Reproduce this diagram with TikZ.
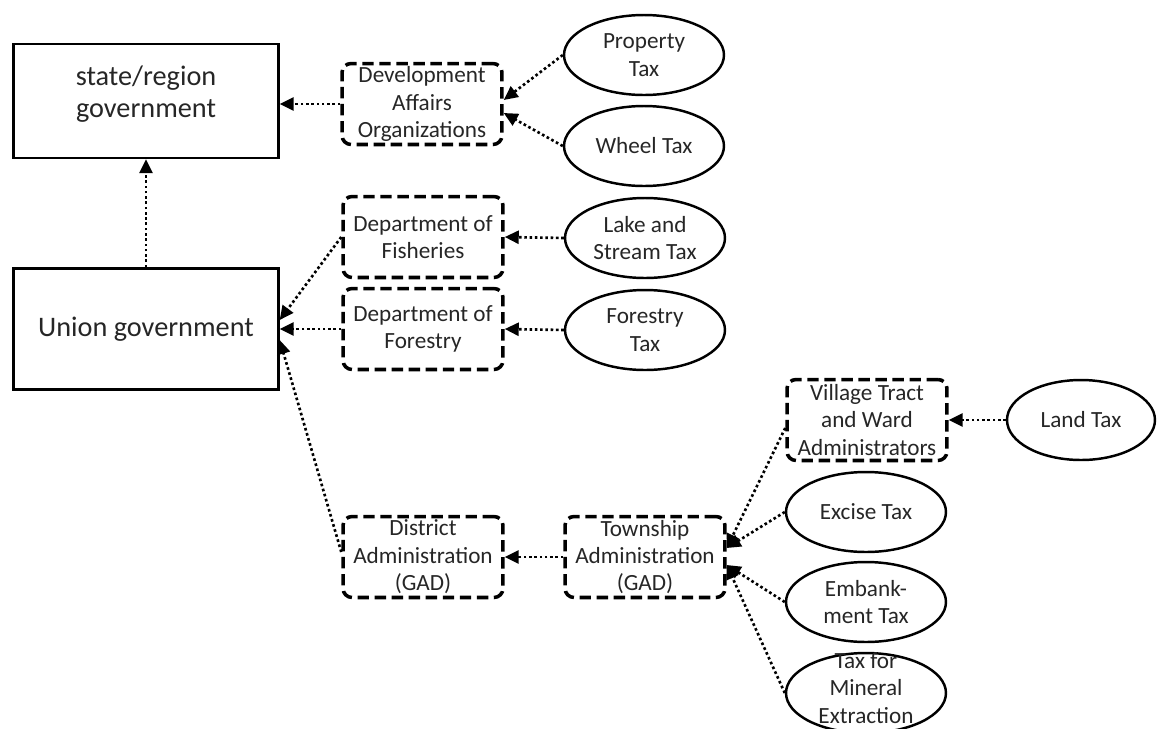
\documentclass[tikz,border=0pt]{standalone}
\usepackage{fontspec}
\setmainfont{Carlito}
\usetikzlibrary{shapes.geometric,arrows.meta}

\tikzset{
  govbox/.style={draw,line width=1.4pt,minimum width=5.3cm,inner sep=0pt,align=center,
    text=black!85,font=\fontsize{16.1}{18.5}\selectfont},
  orgbox/.style={draw,line width=2pt,dash pattern=on 6.5pt off 3.2pt,rounded corners=0.18cm,
    minimum width=3.2cm,minimum height=1.62cm,inner sep=0pt,align=center,
    text=black!85,font=\fontsize{13.2}{15.6}\selectfont},
  taxoval/.style={draw,ellipse,line width=1.4pt,minimum width=3.2cm,minimum height=1.6cm,
    inner sep=0pt,align=center,text=black!85,font=\fontsize{13.2}{15.6}\selectfont},
  flow/.style={line width=1.5pt,dash pattern=on 1.5pt off 1.5pt,
    -{Triangle[length=2.8mm,width=2.6mm]}}
}

\begin{document}
\begin{tikzpicture}[x=0.02cm,y=-0.02cm]
	\useasboundingbox (0,0) rectangle (1157,728);
	% governments
	\node[govbox,minimum height=2.28cm] (state) at (146,101) {state/region\\government\\[-8pt]};
	\node[govbox,minimum height=2.42cm] (union) at (146,329) {Union government};
	% organizations
	\node[orgbox] (dao) at (422,104) {Development\\Affairs\\Organizations};
	\node[orgbox] (fish) at (423,237) {Department of\\Fisheries};
	\node[orgbox] (forest) at (423,329) {Department of\\Forestry};
	\node[orgbox] (district) at (423,557) {District\\Administration\\(GAD)};
	\node[orgbox] (township) at (645,557) {Township\\Administration\\(GAD)};
	\node[orgbox] (village) at (867,420) {Village Tract\\and Ward\\Administrators};
	% taxes
	\node[taxoval] (proptax) at (644,55) {Property\\Tax};
	\node[taxoval] (wheeltax) at (644,146) {Wheel Tax};
	\node[taxoval] (laketax) at (645,238) {Lake and\\Stream Tax};
	\node[taxoval] (foresttax) at (645,330) {Forestry\\Tax};
	\node[taxoval,minimum width=2.96cm] (landtax) at (1081,420) {Land Tax};
	\node[taxoval] (excisetax) at (866,512) {Excise Tax};
	\node[taxoval] (embanktax) at (866,602) {Embank-\\ment Tax};
	\node[taxoval,label={[align=center,text=black!85,yshift=0.1cm,
	  font=\fontsize{13.2}{15.6}\selectfont]center:Tax for\\Mineral\\Extraction}] (mineraltax) at (866,693) {};
	% flows
	\draw[flow] (union.north) -- (union.north |- state.south);
	\draw[flow] (dao.west) -- (dao.west -| state.east);
	\draw[flow] (proptax.west) -- ([yshift=0.08cm]dao.east);
	\draw[flow] (wheeltax.west) -- ([yshift=-0.18cm]dao.east);
	\draw[flow] (laketax.west) -- (fish.east);
	\draw[flow] (foresttax.west) -- (forest.east);
	\draw[flow] (fish.west) -- ([yshift=0.18cm]union.east);
	\draw[flow] (forest.west) -- (union.east);
	\draw[flow] ([yshift=0.1cm]district.west) -- ([yshift=-0.22cm]union.east);
	\draw[flow] (township.west) -- (district.east);
	\draw[flow] (landtax.west) -- (village.east);
	\draw[flow] ([yshift=-0.16cm]village.west) -- ([yshift=0.18cm]township.east);
	\draw[flow] (excisetax.west) -- ([yshift=0.18cm]township.east);
	\draw[flow] (embanktax.west) -- ([yshift=-0.16cm]township.east);
	\draw[flow] (mineraltax.west) -- ([yshift=-0.16cm]township.east);
\end{tikzpicture}
\end{document}
